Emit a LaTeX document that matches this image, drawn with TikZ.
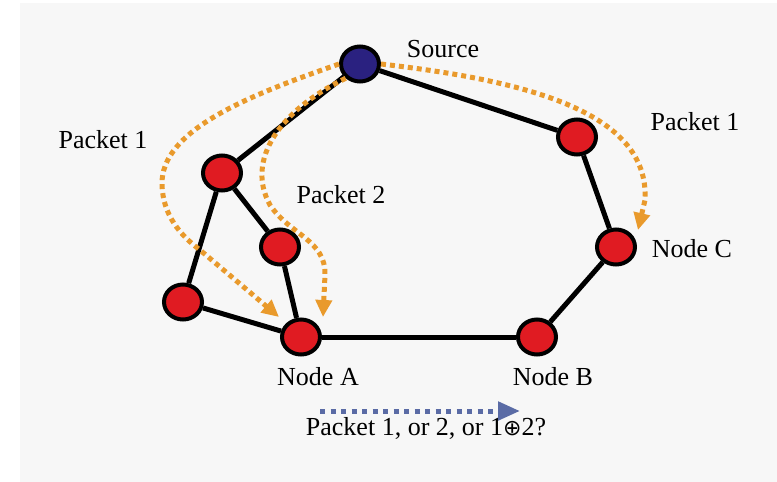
\documentclass[tikz,border=0pt]{standalone}
\usepackage{fontspec}
\setmainfont{Liberation Serif}
\newfontfamily\opsfont{DejaVu Sans}
\usetikzlibrary{shapes.geometric,arrows.meta}
\definecolor{bggray}{HTML}{F7F7F7}
\definecolor{nodered}{HTML}{E01B22}
\definecolor{srcblue}{HTML}{2A2180}
\definecolor{pktorange}{HTML}{E99A2C}
\definecolor{qblue}{HTML}{5A6BA5}
\begin{document}
\begin{tikzpicture}[x=1pt,y=-1pt,
  router/.style={ellipse,draw=black,line width=4pt,fill=nodered,minimum width=38pt,minimum height=35pt,inner sep=0pt},
  link/.style={line width=5pt,black},
  packet/.style={pktorange,line width=5pt,dash pattern=on 5pt off 4pt,-{Triangle[length=17pt,width=16pt]}},
  lbl/.style={anchor=base,font=\fontsize{26}{30}\selectfont,text=black}]
\useasboundingbox (0,0) rectangle (777,482);
\fill[bggray] (20,3) rectangle (777,482);
\node[router,fill=srcblue] (src) at (360,64) {};
\node[router] (nl) at (222,173) {};
\node[router] (nm) at (280,247) {};
\node[router] (nll) at (183,302) {};
\node[router] (na) at (301,337) {};
\node[router] (nb) at (537,337) {};
\node[router] (nc) at (616,247) {};
\node[router] (nr) at (577,137) {};
\draw[link] (src) -- (nl);
\draw[link] (src) -- (nr);
\draw[link] (nl) -- (nm);
\draw[link] (nl) -- (nll);
\draw[link] (nm) -- (na);
\draw[link] (nll) -- (na);
\draw[link] (na) -- (nb);
\draw[link] (nb) -- (nc);
\draw[link] (nr) -- (nc);
\coordinate (tipl) at (279,317);
\coordinate (tipm) at (323,317);
\coordinate (tipr) at (638,230);
\draw[packet] (src.west) .. controls (250,95) and (160,130) .. (162,185) .. controls (163,215) and (180,235) .. (200,250) -- (tipl);
\draw[packet] (src.225) .. controls (280,110) and (245,160) .. (270,205) .. controls (290,235) and (326,240) .. (325,275) -- (tipm);
\draw[packet] (src.east) .. controls (520,80) and (650,110) .. (645,200) -- (tipr);
\coordinate (qs) at (320,411);
\coordinate (qe) at (520,411);
\draw[qblue,line width=5pt,dash pattern=on 5pt off 5.5pt,-{Triangle[length=22pt,width=18pt]}] (qs) -- (qe);
\node[lbl] (lsrc) at (443,57) {Source};
\node[lbl] (lpl) at (103,148) {Packet 1};
\node[lbl] (lpm) at (341,203) {Packet 2};
\node[lbl] (lpr) at (695,130) {Packet 1};
\node[lbl] (lc) at (692,257) {Node C};
\node[lbl] (la) at (318,385) {Node A};
\node[lbl] (lb) at (553,385) {Node B};
\node[lbl] (lq) at (426,435) {Packet 1, or 2, or 1{\opsfont\fontsize{22}{26}\selectfont ⊕}2?};
\end{tikzpicture}
\end{document}
